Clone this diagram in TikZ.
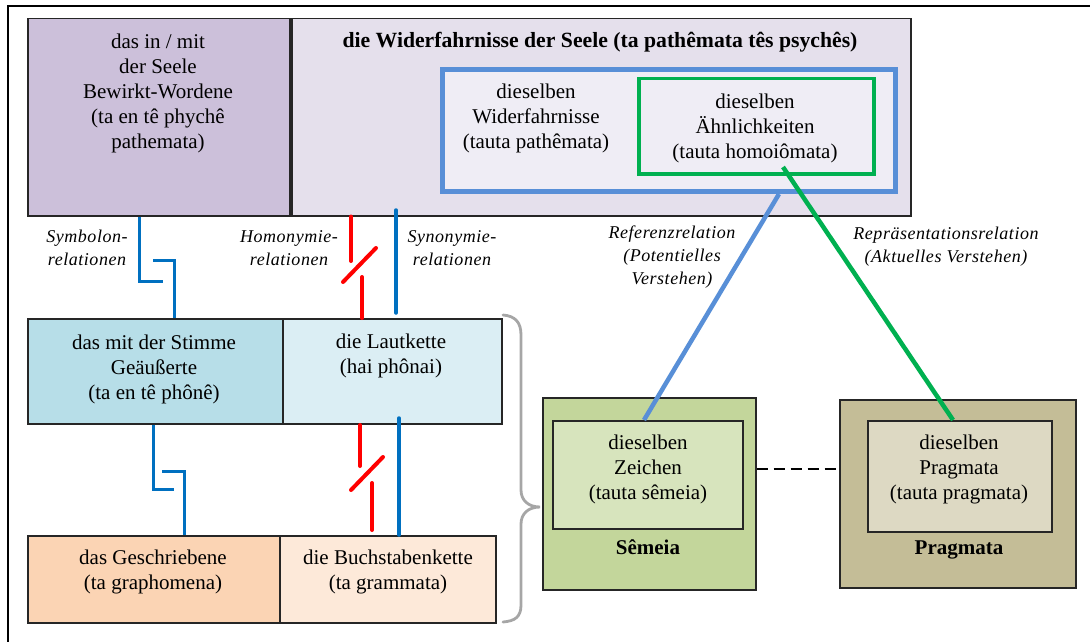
\documentclass[tikz,border=0pt]{standalone}
\usepackage{fontspec}
\setmainfont{Liberation Serif}
\usetikzlibrary{calc}

\definecolor{seelefill}{HTML}{CCC0DA}
\definecolor{widerfill}{HTML}{E5E0EC}
\definecolor{innerfill}{HTML}{EFEDF5}
\definecolor{stimmefill}{HTML}{B7DEE8}
\definecolor{lautfill}{HTML}{DBEEF4}
\definecolor{schriftfill}{HTML}{FBD4B4}
\definecolor{buchfill}{HTML}{FDE9D9}
\definecolor{semouter}{HTML}{C3D69B}
\definecolor{seminner}{HTML}{D7E4BD}
\definecolor{pragouter}{HTML}{C4BD97}
\definecolor{praginner}{HTML}{DDD9C3}
\definecolor{refblue}{HTML}{588FD7}
\definecolor{symblue}{HTML}{0070C0}
\definecolor{homred}{HTML}{FF0000}
\definecolor{repgreen}{HTML}{00B050}
\definecolor{bracegrey}{HTML}{A6A6A6}

\begin{document}
\begin{tikzpicture}[x=1pt,y=-1pt,
  box/.style={draw=black!85, line width=1.5pt, inner sep=0pt, anchor=north west},
  txt/.style={align=center, inner sep=0pt, font=\fontsize{21}{25}\selectfont},
  boldtxt/.style={txt, font=\fontsize{21}{25}\selectfont\bfseries},
  titletxt/.style={txt, font=\fontsize{21.7}{25}\selectfont\bfseries},
  lbl/.style={align=center, inner sep=0pt,
    font=\fontsize{18}{23}\selectfont\itshape\addfontfeature{LetterSpace=3}},
  symlink/.style={draw=symblue, line width=3pt},
  synlink/.style={draw=symblue, line width=3.5pt, line cap=round},
  homlink/.style={draw=homred, line width=4pt, line cap=round},
  reflink/.style={draw=refblue, line width=4.5pt},
  replink/.style={draw=repgreen, line width=4.5pt},
  bracestyle/.style={draw=bracegrey, line width=2.8pt, line cap=round}
]
\useasboundingbox (0,0) rectangle (1090,642);

% frame
\draw[line width=2pt] (8,642) |- (1090,6);

% soul row
\node[box, fill=seelefill, minimum width=262, minimum height=197] (A) at (27,18) {};
\node[box, fill=widerfill, minimum width=619, minimum height=197] (B) at (291,18) {};
\node[box, draw=refblue, line width=5pt, fill=innerfill, minimum width=453, minimum height=122] (blue) at (440,67) {};
\node[box, draw=repgreen, line width=3.5pt, fill=innerfill, minimum width=235, minimum height=95] (green) at (637,77) {};

\node[txt] (tA) at (158,93) {das in / mit\\der Seele\\Bewirkt-Wordene\\(ta en tê phychê\\pathemata)};
\node[titletxt] (tB) at (600,42) {die Widerfahrnisse der Seele (ta pathêmata tês psychês)};
\node[txt] (tblue) at (536,118) {dieselben\\Widerfahrnisse\\(tauta pathêmata)};
\node[txt] (tgreen) at (755,128) {dieselben\\Ähnlichkeiten\\(tauta homoiômata)};

% voice row
\node[box, fill=stimmefill, minimum width=255, minimum height=105] (C) at (27,318) {};
\node[box, fill=lautfill, minimum width=219, minimum height=105] (D) at (282,318) {};
\node[txt] (tC) at (154,369) {das mit der Stimme\\Geäußerte\\(ta en tê phônê)};
\node[txt] (tD) at (391,355.5) {die Lautkette\\(hai phônai)};

% writing row
\node[box, fill=schriftfill, minimum width=252, minimum height=87] (E) at (27,535) {};
\node[box, fill=buchfill, minimum width=216, minimum height=87] (F) at (279,535) {};
\node[txt] (tE) at (153,572) {das Geschriebene\\(ta graphomena)};
\node[txt] (tF) at (388,572) {die Buchstabenkette\\(ta grammata)};

% signs and things
\node[box, fill=semouter, minimum width=213, minimum height=192] (sem) at (542,397) {};
\node[box, fill=seminner, minimum width=190, minimum height=108] (semin) at (552,420) {};
\node[txt] (tsemin) at (648,469) {dieselben\\Zeichen\\(tauta sêmeia)};
\node[boldtxt] (tsem) at (648,547) {Sêmeia};

\node[box, fill=pragouter, minimum width=236, minimum height=188] (prag) at (839,399) {};
\node[box, fill=praginner, minimum width=184, minimum height=111] (pragin) at (867,420) {};
\node[txt] (tpragin) at (959,469) {dieselben\\Pragmata\\(tauta pragmata)};
\node[boldtxt] (tprag) at (959,550) {Pragmata};

\draw[line width=2.6pt, dash pattern=on 11pt off 6pt] (sem.east |- 0,469) -- (prag.west |- 0,469);

% symbol relations
\draw[symlink] (A.south -| 139,0) |- (163,281);
\draw[symlink] (153,260) -| (C.north -| 174,0);
\draw[symlink] (C.south -| 153,0) |- (174,489);
\draw[symlink] (162,471) -| (E.north -| 184,0);

% synonymy relations
\draw[synlink] (396,210) -- (396,313);
\draw[synlink] (399,418) -- (F.north -| 399,0);

% homonymy relations
\draw[homlink] (B.south -| 351,0) -- (351,261);
\draw[homlink] (343,282) -- (376,248);
\draw[homlink] (362,277) -- (D.north -| 362,0);
\draw[homlink] (360,425) -- (360,466);
\draw[homlink] (351,490) -- (383,457);
\draw[homlink] (372,483) -- (372,530);

% reference and representation
\coordinate (gstart) at (783,167);
\draw[reflink] (blue.south -| 779,0) -- (semin.north -| 644,0);
\draw[replink] (gstart) -- (pragin.north -| 953,0);

% labels
\node[lbl] (lsym) at (87,248) {Symbolon-\\relationen};
\node[lbl] (lhom) at (289,248) {Homonymie-\\relationen};
\node[lbl] (lsyn) at (452,248) {Synonymie-\\relationen};
\node[lbl] (lref) at (672,257) {Referenzrelation\\(Potentielles\\Verstehen)};
\node[lbl] (lrep) at (946,246.5) {Repräsentationsrelation\\(Aktuelles Verstehen)};

% brace
\draw[bracestyle] (503,315) .. controls (515,316) and (521,322) .. (521,335)
  -- (521,490) .. controls (521,500) and (528,507) .. (540,507)
  .. controls (528,507) and (521,514) .. (521,524)
  -- (521,605) .. controls (521,617) and (515,621) .. (503,622);
\end{tikzpicture}
\end{document}
